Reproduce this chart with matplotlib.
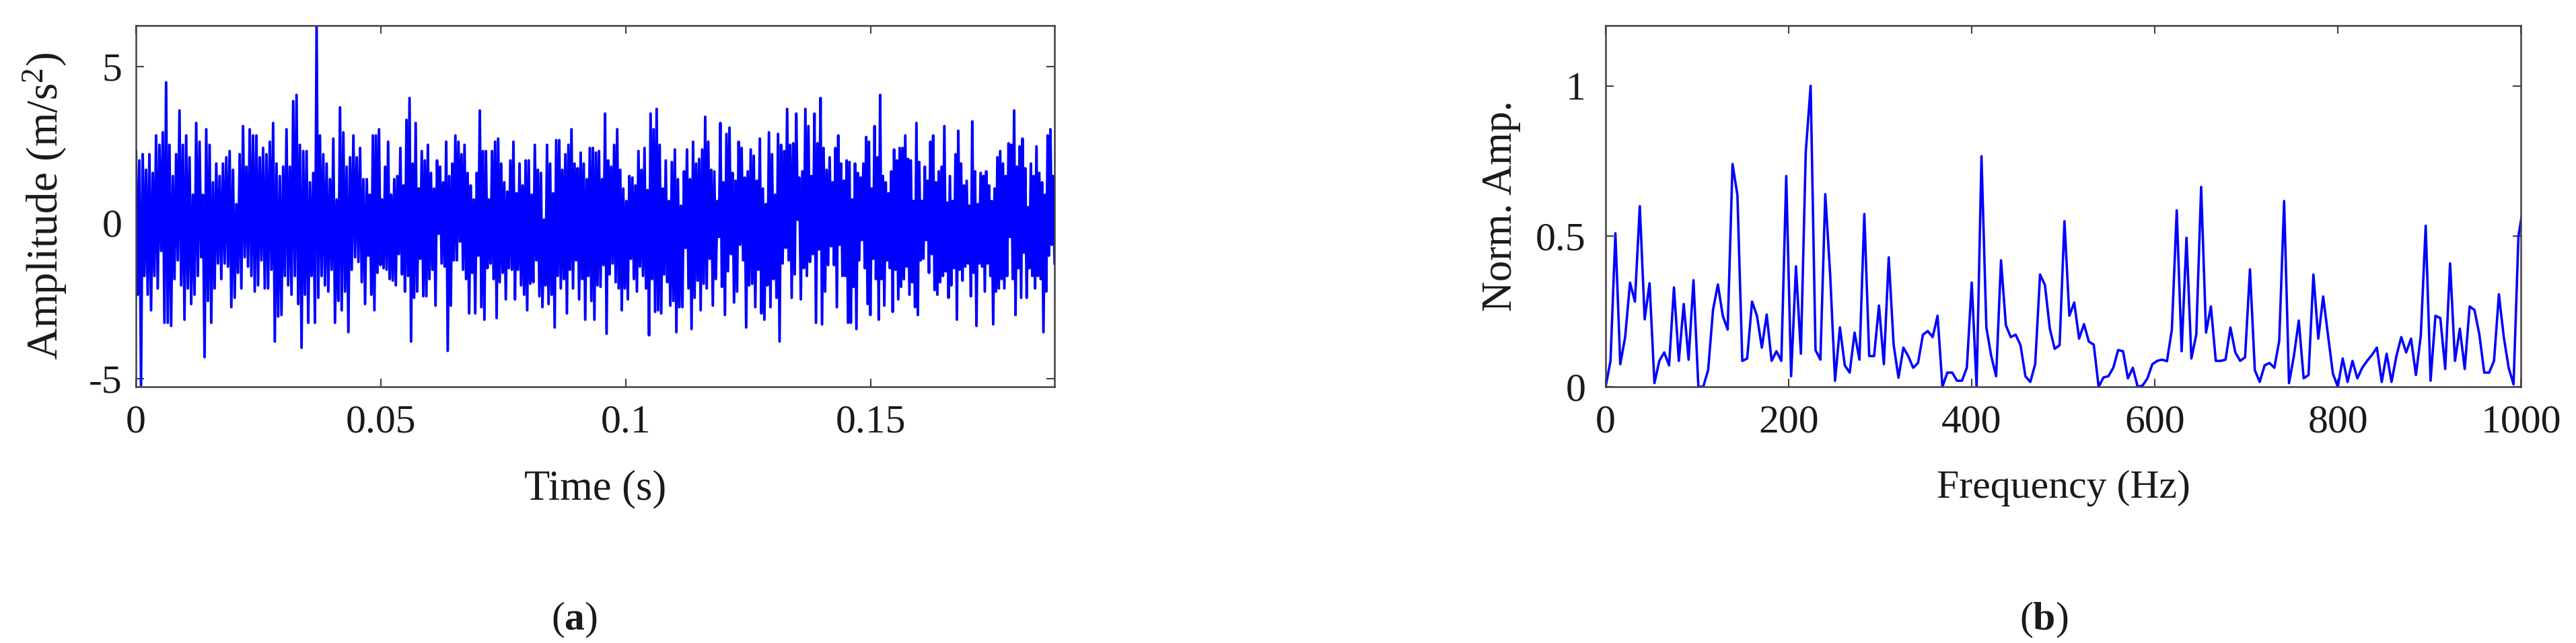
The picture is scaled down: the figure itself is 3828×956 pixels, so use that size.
import numpy as np
import matplotlib.pyplot as plt

plt.rcParams['font.family'] = ['Liberation Serif', 'DejaVu Serif']
plt.rcParams['font.size'] = 43
plt.rcParams['axes.unicode_minus'] = False
plt.rcParams['mathtext.fontset'] = 'custom'
plt.rcParams['mathtext.rm'] = 'Liberation Serif'
plt.rcParams['mathtext.it'] = 'Liberation Serif:italic'
plt.rcParams['mathtext.bf'] = 'Liberation Serif:bold'

# (a) time signal, read as alternating upper / lower swings in four windows
t_end = 0.1875  # s
seg_bounds = [0.0, 0.0471, 0.0945, 0.1422, 0.1875]

up1 = [2.3, 2.0, 2.2, 1.7, 2.2, 1.6, 2.8, 2.5, 2.9, 4.5,
       2.5, 1.5, 2.2, 3.6, 2.5, 2.8, 2.1, 0.9, 3.2, 2.6,
       0.9, 3.0, 2.5, 1.3, 1.9, 1.5, 1.9, 2.1, 2.3, 1.7,
       0.6, 2.2, 3.1, 1.8, 3.0, 2.8, 2.8, 2.1, 2.4, 2.2,
       2.6, 3.2, 1.9, 1.5, 1.8, 3.0, 1.8, 3.9, 4.1, 2.5,
       2.3, 2.3, 1.3, 1.6, 6.3, 2.8, 2.2, 1.9, 1.4, 2.7,
       0.75, 3.7, 2.9, 1.8, 2.1, 2.8, 2.1, 2.4, 1.4]
lo1 = [-2.3, -5.2, -1.7, -2.3, -2.8, -1.7, -2.1, -0.9, -3.2, -3.2,
       -3.3, -1.8, -1.2, -2.0, -3.1, -2.1, -2.6, -2.3, -1.7, -1.1,
       -4.3, -2.5, -3.2, -2.1, -1.3, -1.8, -1.3, -1.4, -2.7, -2.4,
       -1.6, -2.1, -1.1, -1.4, -1.7, -2.2, -2.0, -1.2, -2.1, -2.1,
       -1.5, -3.8, -3.0, -2.95, -1.7, -2.0, -2.3, -1.7, -2.6, -4.0,
       -2.3, -3.2, -1.7, -3.2, -2.4, -1.7, -2.0, -2.2, -1.5, -3.2,
       -2.5, -2.8, -2.2, -3.5, -1.5, -1.1, -1.25, -1.9, -2.6]

up2 = [1.4, 0.9, 2.8, 2.8, 3.0, 0.75, 1.8, 2.6, 0.9, 1.4,
       1.5, 2.4, 1.2, 3.3, 4.0, 1.9, 3.2, 1.1, 2.3, 2.0,
       2.5, 1.6, 1.1, 2.0, 1.8, 1.3, 2.6, 1.5, 1.9, 2.8,
       2.6, 2.2, 2.5, 1.6, 1.2, 0.75, 1.6, 3.6, 2.3, 2.3,
       0.75, 2.3, 2.6, 2.7, 1.9, 1.3, 1.0, 2.0, 2.6, 0.95,
       1.9, 1.2, 2.0, 2.0, 0.9, 2.5, 1.7, 1.6, 0.1, 2.5,
       1.9, 0.95, 2.65, 2.65, 1.7, 2.2, 2.5, 3.0, 1.9, 1.75,
       2.25, 1.9, 1.4, 2.4, 2.4, 2.25]
lo2 = [-1.05, -2.3, -2.8, -1.6, -1.35, -1.45, -1.5, -1.8, -1.85, -2.0,
       -1.0, -1.65, -2.2, -1.7, -3.8, -2.4, -2.2, -1.15, -2.35, -2.35,
       -1.8, -1.5, -2.65, -0.35, -1.3, -1.4, -4.1, -2.65, -1.2, -1.2,
       -0.6, -1.5, -1.8, -2.9, -1.6, -2.9, -1.05, -2.7, -3.1, -1.45,
       -1.3, -1.8, -3.05, -1.9, -1.6, -2.45, -1.45, -1.5, -2.45, -1.5,
       -2.0, -2.3, -2.8, -1.95, -1.9, -1.2, -2.35, -2.7, -2.0, -2.6,
       -2.3, -3.35, -1.7, -2.1, -1.8, -2.9, -1.5, -2.1, -1.2, -2.45,
       -1.8, -3.1, -1.7, -2.5, -3.1, -2.0]

up3 = [2.3, 1.4, 3.5, 2.0, 1.8, 2.5, 3.0, 1.7, 1.1, 0.7,
       1.5, 1.45, 1.2, 2.3, 1.7, 2.4, 1.05, 3.5, 3.0, 3.65,
       2.5, 1.1, 2.0, 0.7, 1.95, 2.35, 1.4, 0.55, 1.65, 2.35,
       1.4, 2.6, 1.9, 2.05, 2.35, 3.4, 2.6, 1.7, 1.65, 0.7,
       3.2, 1.3, 2.85, 3.05, 1.6, 1.35, 2.6, 2.4, 1.45, 1.65,
       2.35, 2.15, 1.35, 2.7, 1.1, 0.6, 2.9, 2.2, 0.9, 2.85,
       2.5, 2.3, 3.65, 2.5, 2.55, 3.5, 1.45, 1.65, 3.65, 3.1,
       1.5, 3.5, 2.55, 4.0, 2.4, 1.7, 2.1]
lo3 = [-2.05, -1.35, -3.55, -1.65, -1.3, -1.9, -2.1, -2.8, -2.1, -2.45,
       -1.15, -1.8, -2.2, -1.4, -1.7, -2.1, -3.6, -1.8, -2.85, -2.8,
       -2.9, -1.65, -1.9, -2.65, -2.5, -3.5, -2.7, -2.7, -0.8, -2.1,
       -3.4, -2.4, -1.85, -2.8, -1.95, -2.1, -1.15, -2.65, -1.8, -0.45,
       -2.05, -2.95, -1.55, -1.0, -2.55, -2.2, -0.7, -1.2, -3.35, -2.0,
       -1.95, -2.7, -1.5, -2.9, -3.1, -2.0, -2.7, -1.8, -2.4, -3.8,
       -1.3, -0.8, -1.2, -2.4, -1.65, 0.1, -2.45, -1.45, -1.7, -1.25,
       -1.0, -3.2, -0.85, -3.25, -2.2, -1.35, -0.75]

up4 = [1.3, 2.4, 2.8, 1.9, 1.35, 2.0, 1.95, 0.75, 1.9, 1.6,
       1.45, 1.9, 2.75, 2.6, 1.1, 3.1, 2.1, 4.1, 1.5, 1.3,
       0.95, 1.65, 2.35, 2.0, 2.4, 2.4, 2.8, 2.05, 2.0, 0.7,
       3.2, 1.95, 0.7, 1.8, 1.35, 2.6, 2.8, 1.3, 1.65, 1.8,
       3.1, 0.65, 1.5, 0.7, 2.2, 2.95, 1.9, 1.2, 1.35, 0.55,
       3.25, 1.65, 0.6, 1.6, 1.5, 1.65, 1.2, 0.7, 1.1, 2.1,
       2.3, 1.9, 1.5, 2.55, 2.5, 3.6, 1.8, 2.45, 2.7, 1.75,
       0.5, 1.9, 1.5, 2.45, 1.6, 1.3, 0.9, 2.8, 3.0, 1.5]
lo4 = [-1.35, -2.7, -0.7, -1.7, -1.7, -3.2, -3.2, -2.05, -3.4, -1.2,
       -0.55, -1.45, -2.6, -2.95, -1.15, -1.8, -3.1, -1.8, -2.65, -1.2,
       -1.45, -2.85, -1.5, -2.45, -2.05, -1.8, -1.4, -2.3, -1.9, -2.7,
       -2.95, -1.2, -1.15, -0.55, -1.6, -1.0, -2.15, -2.3, -1.9, -1.7,
       -1.55, -2.4, -2.0, -1.45, -3.1, -1.5, -1.85, -1.4, -1.3, -2.35,
       -1.6, -3.3, -1.3, -1.4, -2.2, -1.3, -1.7, -3.25, -2.2, -2.1,
       -1.8, -2.1, -1.7, -0.45, -1.8, -2.95, -1.45, -2.4, -0.95, -2.4,
       -1.45, -1.7, -2.1, -1.7, -1.8, -3.5, -2.2, -1.05, -0.7, -1.3]

# (b) normalised spectrum, one value per frequency bin
norm_amp = [0.0, 0.086, 0.51, 0.075, 0.165, 0.346, 0.283, 0.60, 0.224, 0.344,
            0.012, 0.086, 0.114, 0.071, 0.33, 0.086, 0.275, 0.09, 0.354, 0.0,
            0.0, 0.055, 0.255, 0.34, 0.236, 0.19, 0.74, 0.637, 0.086, 0.094,
            0.283, 0.236, 0.13, 0.24, 0.086, 0.118, 0.086, 0.70, 0.035, 0.40,
            0.11, 0.78, 1.0, 0.122, 0.09, 0.64, 0.373, 0.02, 0.197, 0.071,
            0.047, 0.18, 0.09, 0.574, 0.102, 0.102, 0.27, 0.075, 0.43, 0.14,
            0.03, 0.13, 0.102, 0.063, 0.079, 0.173, 0.185, 0.165, 0.236, 0.0,
            0.047, 0.047, 0.02, 0.02, 0.063, 0.346, 0.0, 0.766, 0.197, 0.102,
            0.035, 0.42, 0.204, 0.165, 0.173, 0.138, 0.035, 0.016, 0.075, 0.373,
            0.338, 0.193, 0.126, 0.138, 0.55, 0.236, 0.28, 0.16, 0.208, 0.15,
            0.14, 0.0, 0.031, 0.035, 0.063, 0.122, 0.118, 0.028, 0.063, 0.0,
            0.004, 0.028, 0.075, 0.086, 0.09, 0.085, 0.19, 0.586, 0.118, 0.495,
            0.094, 0.173, 0.664, 0.18, 0.267, 0.086, 0.086, 0.09, 0.197, 0.114,
            0.086, 0.098, 0.39, 0.055, 0.016, 0.071, 0.079, 0.063, 0.153, 0.617,
            0.012, 0.102, 0.22, 0.028, 0.039, 0.373, 0.16, 0.30, 0.17, 0.043,
            0.0, 0.094, 0.016, 0.086, 0.028, 0.063, 0.086, 0.106, 0.13, 0.016,
            0.11, 0.016, 0.102, 0.165, 0.114, 0.16, 0.039, 0.17, 0.535, 0.02,
            0.236, 0.228, 0.059, 0.41, 0.086, 0.193, 0.059, 0.267, 0.255, 0.173,
            0.047, 0.047, 0.086, 0.307, 0.165, 0.063, 0.008, 0.50, 0.60]

# build the time series
segs = [(up1, lo1), (up2, lo2), (up3, lo3), (up4, lo4)]
time = []
accel = []
for i, (up, lo) in enumerate(segs):
    n = 2 * len(up)
    vals = np.empty(n)
    vals[0::2] = up
    vals[1::2] = lo
    last = i == len(segs) - 1
    t = np.linspace(seg_bounds[i], seg_bounds[i + 1], n, endpoint=last)
    time.extend(t)
    accel.extend(vals)

df = 1.0 / t_end  # frequency resolution
freq = np.arange(len(norm_amp)) * df

blue = '#0000ff'
spine_col = '#404040'
txt_col = '#1a1a1a'

fig = plt.figure(figsize=(38.28, 9.56), dpi=100)
ax1 = fig.add_axes([0.0528, 0.3985, 0.3566, 0.5617])
ax2 = fig.add_axes([0.6233, 0.3985, 0.3553, 0.5617])

ax1.plot(time, accel, color=blue, lw=2.8)
ax1.set_xlim(0, t_end)
ax1.set_ylim(-5.25, 6.32)
ax1.set_xticks([0, 0.05, 0.1, 0.15])
ax1.set_xticklabels(['0', '0.05', '0.1', '0.15'])
ax1.set_yticks([-5, 0, 5])
ax1.set_xlabel('Time (s)', color=txt_col, fontsize=45)
ax1.set_ylabel('Amplitude (m/s$^2$)', color=txt_col, fontsize=47)
ax1.xaxis.set_label_coords(0.5, -0.23)
ax1.yaxis.set_label_coords(-0.073, 0.5)

ax2.plot(freq, norm_amp, color=blue, lw=2.6)
ax2.set_xlim(0, 1000)
ax2.set_ylim(0, 1.2)
ax2.set_xticks([0, 200, 400, 600, 800, 1000])
ax2.set_yticks([0, 0.5, 1])
ax2.set_yticklabels(['0', '0.5', '1'])
ax2.set_xlabel('Frequency (Hz)', color=txt_col)
ax2.set_ylabel('Norm. Amp.', color=txt_col, fontsize=45)
ax2.xaxis.set_label_coords(0.5, -0.23)
ax2.yaxis.set_label_coords(-0.093, 0.5)

for ax, ypad in [(ax1, 15), (ax2, 21)]:
    for sp in ax.spines.values():
        sp.set_color(spine_col)
        sp.set_linewidth(1.8)
    ax.tick_params(direction='in', top=True, right=True, length=8.5,
                   width=1.5, color=spine_col, labelcolor=txt_col)
    ax.tick_params(axis='x', pad=19)
    ax.tick_params(axis='y', pad=ypad)

fig.text(854 / 3828, 1 - 922 / 956, r'($\mathbf{a}$)', ha='center', va='center',
         color=txt_col)
fig.text(3037 / 3828, 1 - 922 / 956, r'($\mathbf{b}$)', ha='center', va='center',
         color=txt_col)

fig.savefig('out.png', dpi=100, facecolor='white')
